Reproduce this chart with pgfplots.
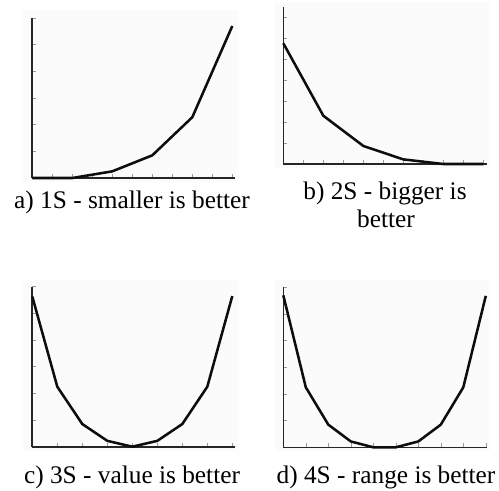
\documentclass[border=0pt]{standalone}
\usepackage{fontspec}
\setmainfont{Liberation Serif}
\usepackage{pgfplots}
\pgfplotsset{compat=1.18}

% pixel -> pt helper (image y runs downwards)
\newcommand\px[2]{({(#1)*0.75pt},{-(#2)*0.75pt})}

\pgfplotsset{
  panel/.style={
    axis x line=bottom, axis y line=left,
    axis line style={-, line width=1.2pt, black!85},
    xmin=0, ymin=0, enlargelimits=false,
    xticklabels={}, yticklabels={},
    tick style={black!40, line width=0.4pt},
    major tick length=3pt, tick align=inside,
    clip=false, anchor=origin,
  },
  curve/.style={line width=1.9pt, black!95, mark=none, line join=round},
}

\begin{document}
\begin{tikzpicture}
\path[use as bounding box] \px{0}{0} rectangle \px{499}{490};
\fill[black!1.5] \px{23}{10} rectangle \px{238}{182};
\fill[black!1.5] \px{275}{2} rectangle \px{490}{168};
\fill[black!1.5] \px{23}{280} rectangle \px{238}{451};
\fill[black!1.5] \px{275}{280} rectangle \px{490}{451};

% a) 1S
\begin{axis}[panel, at={(24.225pt,-133.5pt)}, x=15pt, y=20pt,
  xmax=10.15, ymax=6, xtick={0,...,10}, ytick={1,...,6}]
\addplot[curve] coordinates {(0,0) (2,0) (4,0.25) (6,0.85) (8,2.28) (10,5.7)};
\end{axis}

% b) 2S
\begin{axis}[panel, at={(212.475pt,-123pt)}, x=15pt, y=15.75pt,
  xmax=10.2, ymax=7.5, xtick={0,...,10}, ytick={1,...,7}]
\addplot[curve] coordinates {(0,5.75) (2,2.3) (4,0.86) (6,0.22) (8,0) (10,0)};
\end{axis}

% c) 3S
\begin{axis}[panel, at={(24.225pt,-335.025pt)}, x=18.75pt, y=20pt,
  xmax=8.1, ymax=6, xtick={0,...,8}, ytick={1,...,6}]
\addplot[curve] coordinates {(0,5.63) (1,2.25) (2,0.85) (3,0.22) (4,0)
  (5,0.22) (6,0.85) (7,2.25) (8,5.65)};
\end{axis}

% d) 4S
\begin{axis}[panel, at={(212.475pt,-335.475pt)}, x=16.875pt, y=20pt,
  xmax=9.05, ymax=6, xtick={0,...,9}, ytick={1,...,6}]
\addplot[curve] coordinates {(0,5.7) (1,2.25) (2,0.85) (3,0.22) (4,0) (5,0)
  (6,0.22) (7,0.85) (8,2.25) (9,5.68)};
\end{axis}

\begin{scope}[every node/.style={anchor=base, inner sep=0pt, font=\fontsize{19pt}{22pt}\selectfont}]
\node at \px{132}{208} {a) 1S - smaller is better};
\node at \px{385}{199} {b) 2S - bigger is};
\node at \px{386}{227} {better};
\node at \px{132}{483} {c) 3S - value is better};
\node at \px{386}{483} {d) 4S - range is better};
\end{scope}
\end{tikzpicture}
\end{document}
